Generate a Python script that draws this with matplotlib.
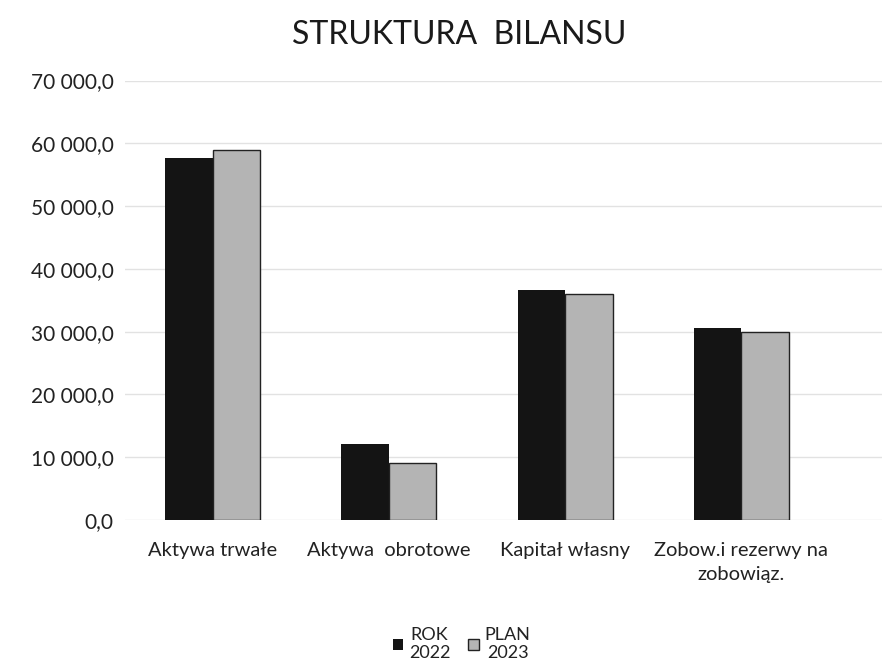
import numpy as np
import matplotlib
matplotlib.use('Agg')
import matplotlib.pyplot as plt
from matplotlib.ticker import FuncFormatter

plt.rcParams['font.family'] = ['Lato', 'DejaVu Sans']

categories = ['Aktywa trwałe', 'Aktywa  obrotowe', 'Kapitał własny', 'Zobow.i rezerwy na\nzobowiąz.']
rok_2022 = [57600, 12100, 36600, 30600]
plan_2023 = [58900, 9100, 36000, 29900]
series_names = ['ROK\n2022', 'PLAN\n2023']

fig = plt.figure(figsize=(8.91, 6.71), dpi=100)
ax = fig.add_axes([0.14, 0.225, 0.85, 0.655])

x = np.arange(len(categories))
w = 0.27
ax.bar(x - w / 2, rok_2022, w, color='#141414', label=series_names[0], zorder=3)
ax.bar(x + w / 2, plan_2023, w, color='#b4b4b4', edgecolor='#222222', linewidth=1.0,
       label=series_names[1], zorder=3)

ax.set_ylim(0, 70000)
ax.set_xlim(-0.5, 3.8)
ax.set_yticks(np.arange(0, 70001, 10000))
ax.yaxis.set_major_formatter(FuncFormatter(lambda v, p: f'{v:,.1f}'.replace(',', ' ').replace('.', ',')))
ax.set_xticks(x)
ax.set_xticklabels(categories, fontsize=14.5, color='#222222', linespacing=1.5)
ax.tick_params(axis='y', labelsize=15, colors='#222222', length=0, pad=8)
ax.tick_params(axis='x', length=0, pad=16)
ax.grid(axis='y', color='#e2e2e2', linewidth=1, zorder=0)
for s in ax.spines.values():
    s.set_visible(False)

fig.text(0.515, 0.948, 'STRUKTURA  BILANSU', ha='center', va='center', fontsize=23, color='#1a1a1a')

leg = fig.legend(loc='center', bbox_to_anchor=(0.518, 0.04), ncol=2, frameon=False,
                 fontsize=13, handlelength=0.6, handleheight=0.6, handletextpad=0.3,
                 columnspacing=1.0, labelcolor='#222222')
for t in leg.get_texts():
    t.set_multialignment('center')

fig.savefig('out.png', dpi=100, facecolor='white')
